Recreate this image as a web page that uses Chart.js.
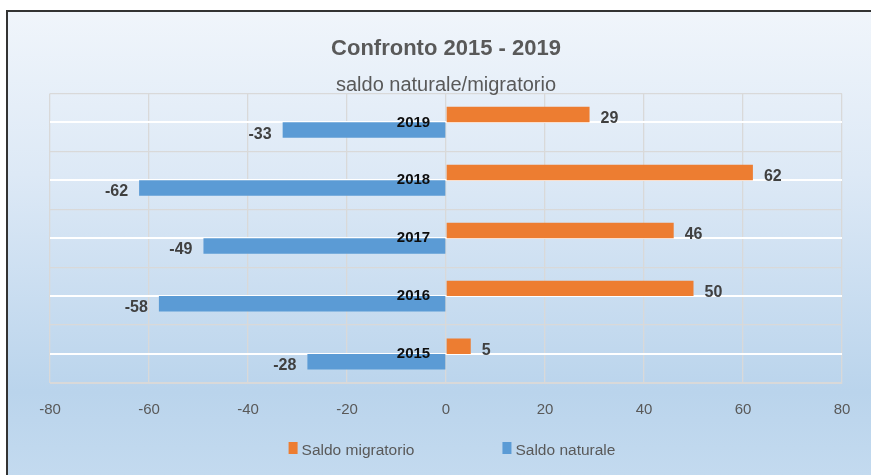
<!DOCTYPE html>
<html lang="it">
<head>
    <meta charset="UTF-8">
    <title>Confronto 2015 - 2019</title>
    <script src="https://cdn.jsdelivr.net/npm/chart.js@4.4.0/dist/chart.umd.min.js"></script>
    <style>
        body {
            margin: 0;
            background: #ffffff;
            overflow: hidden;
        }

        .frame {
            position: absolute;
            left: 6px;
            top: 10px;
            width: 865px;
            height: 465px;
            box-sizing: border-box;
            border-left: 2px solid #333333;
            border-top: 2px solid #333333;
            background: linear-gradient(to bottom, #f0f5fb 0%, #dde9f6 35%, #bad4ec 82%, #c3daef 100%);
        }

        canvas {
            display: block;
        }
    </style>
</head>
<body>
    <div class="frame">
        <canvas id="saldoChart" width="863" height="463"></canvas>
    </div>

    <script>
        // dati
        const anni = ['2019', '2018', '2017', '2016', '2015'];
        const saldoMigratorio = [29, 62, 46, 50, 5];
        const saldoNaturale = [-33, -62, -49, -58, -28];
        const xMin = -80;
        const xMax = 80;
        const xStep = 20;

        const FONT = "'Liberation Sans', Arial, sans-serif";
        const GRID = '#d9d9d9';

        // etichette dei valori accanto alle barre
        const valueLabels = {
            id: 'valueLabels',
            afterDatasetsDraw(chart) {
                const ctx = chart.ctx;
                ctx.save();
                ctx.font = 'bold 16px ' + FONT;
                ctx.fillStyle = '#404040';
                ctx.textBaseline = 'middle';
                chart.data.datasets.forEach((ds, i) => {
                    chart.getDatasetMeta(i).data.forEach((bar, j) => {
                        const v = ds.data[j];
                        ctx.textAlign = v < 0 ? 'right' : 'left';
                        ctx.fillText(String(v), bar.x + (v < 0 ? -11 : 11), bar.y + 4);
                    });
                });
                ctx.restore();
            }
        };

        // legenda in basso, con la spaziatura larga di Excel
        const bottomLegend = {
            id: 'bottomLegend',
            afterDraw(chart) {
                const ctx = chart.ctx;
                const area = chart.chartArea;
                const box = 9, gap = 4, spacing = 88;
                ctx.save();
                ctx.font = '15.5px ' + FONT;
                const items = chart.data.datasets.map(ds => ({
                    text: ds.label,
                    color: ds.backgroundColor,
                    w: box + gap + ctx.measureText(ds.label).width
                }));
                const total = items.reduce((s, it) => s + it.w, 0) + spacing * (items.length - 1);
                let x = (area.left + area.right) / 2 - total / 2 + 6;
                const base = 443;
                items.forEach(it => {
                    ctx.fillStyle = it.color;
                    ctx.fillRect(x, base - 13, box, 12);
                    ctx.fillStyle = '#595959';
                    ctx.textAlign = 'left';
                    ctx.textBaseline = 'alphabetic';
                    ctx.fillText(it.text, x + box + gap, base);
                    x += it.w + spacing;
                });
                ctx.restore();
            }
        };

        const ctx = document.getElementById('saldoChart').getContext('2d');
        new Chart(ctx, {
            type: 'bar',
            data: {
                labels: anni,
                datasets: [{
                    label: 'Saldo migratorio',
                    data: saldoMigratorio,
                    backgroundColor: '#ed7d31',
                    yAxisID: 'y'
                }, {
                    label: 'Saldo naturale',
                    data: saldoNaturale,
                    backgroundColor: '#5b9bd5',
                    yAxisID: 'y'
                }]
            },
            options: {
                indexAxis: 'y',
                responsive: false,
                animation: false,
                datasets: {
                    bar: {
                        categoryPercentage: 0.535,
                        barPercentage: 1
                    }
                },
                layout: {
                    padding: { top: 0, left: 42, right: 29, bottom: 38 }
                },
                scales: {
                    x: {
                        min: xMin,
                        max: xMax,
                        ticks: {
                            stepSize: xStep,
                            padding: 18,
                            color: '#595959',
                            font: { family: FONT, size: 15 }
                        },
                        grid: { color: GRID, lineWidth: 1.3, drawTicks: false },
                        border: { color: GRID }
                    },
                    y: {
                        // etichette degli anni subito a sinistra dello zero
                        position: { x: -3.2 },
                        offset: true,
                        ticks: {
                            z: 1,
                            padding: 0,
                            color: '#0d0d0d',
                            font: { family: FONT, size: 15, weight: 'bold' }
                        },
                        grid: { color: GRID, lineWidth: 1.3, drawTicks: false, offset: true },
                        border: { display: false }
                    },
                    // linee bianche al centro di ogni categoria
                    yCentro: {
                        type: 'category',
                        labels: anni,
                        position: 'right',
                        offset: true,
                        ticks: { display: false },
                        grid: { color: '#ffffff', lineWidth: 2, drawTicks: false, offset: false },
                        border: { display: false }
                    }
                },
                plugins: {
                    legend: { display: false },
                    tooltip: { enabled: false },
                    title: {
                        display: true,
                        text: 'Confronto 2015 - 2019',
                        color: '#595959',
                        font: { family: FONT, size: 22, weight: 'bold', lineHeight: 1.2 },
                        padding: { top: 24, bottom: 0 }
                    },
                    subtitle: {
                        display: true,
                        text: 'saldo naturale/migratorio',
                        color: '#595959',
                        font: { family: FONT, size: 20, lineHeight: 0.8 },
                        padding: { top: 15, bottom: 0 }
                    }
                }
            },
            plugins: [valueLabels, bottomLegend]
        });
    </script>
</body>
</html>
